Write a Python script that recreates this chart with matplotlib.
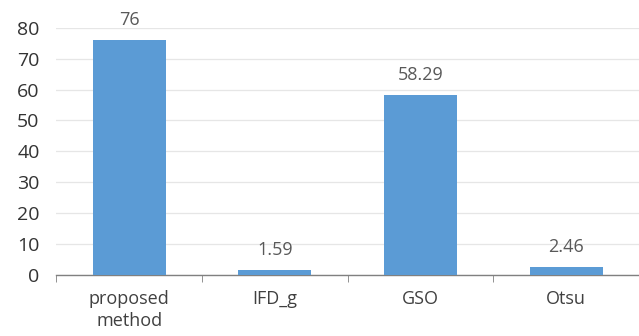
import matplotlib
matplotlib.use("Agg")
import matplotlib.pyplot as plt

categories = ["proposed\nmethod", "IFD_g", "GSO", "Otsu"]
values = [76, 1.59, 58.29, 2.46]
labels = ["76", "1.59", "58.29", "2.46"]

plt.rcParams['font.family'] = ['Open Sans', 'DejaVu Sans']
fig = plt.figure(figsize=(6.39, 3.36), dpi=100)
ax = fig.add_axes([0.088, 0.182, 0.912, 0.735])
x = list(range(len(categories)))
ax.bar(x, values, width=0.5, color="#5B9BD5", zorder=3)
for xi, v, lab in zip(x, values, labels):
    ax.annotate(lab, (xi, v), xytext=(0, 8), textcoords="offset points",
                ha="center", va="bottom", fontsize=13, color="#595959")
ax.set_xlim(-0.5, len(categories) - 0.5)
ax.set_ylim(0, 80)
ax.set_yticks(range(0, 81, 10))
ax.yaxis.grid(True, color="#E6E6E6", linewidth=0.9, zorder=0)
for s in ["top", "right", "left"]:
    ax.spines[s].set_visible(False)
ax.spines["bottom"].set_color("#808080")
ax.spines["bottom"].set_linewidth(1.0)
ax.tick_params(axis="y", length=0, labelsize=14, labelcolor="#333333", pad=12)
ax.set_xticks(x)
ax.set_xticklabels(categories, fontsize=13, color="#404040", linespacing=1.3)
ax.set_xticks([i - 0.5 for i in range(len(categories) + 1)], minor=True)
ax.tick_params(axis="x", which="major", length=0, pad=11)
ax.tick_params(axis="x", which="minor", length=5, color="#808080", direction="out")
fig.savefig("out.png", dpi=100)
